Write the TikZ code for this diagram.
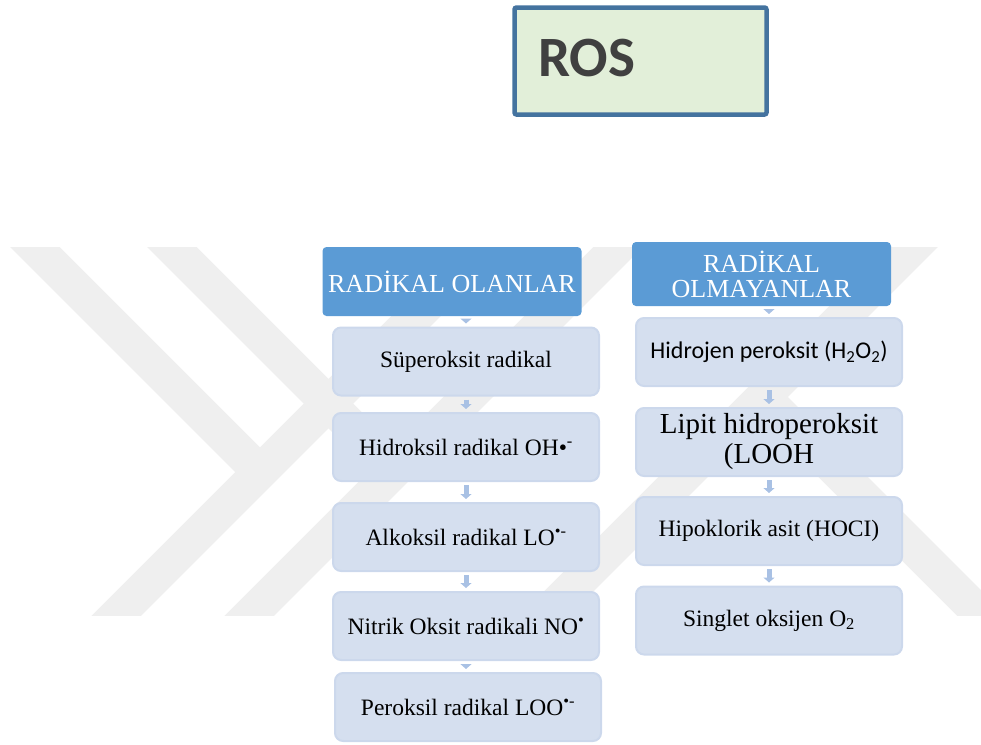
\documentclass[tikz,border=0pt]{standalone}
\usepackage{fontspec}
\setmainfont{Liberation Serif}
\newfontfamily\calibri{Carlito}
\usetikzlibrary{arrows.meta}

\definecolor{headblue}{HTML}{5B9BD5}
\definecolor{itemfill}{HTML}{D5DFEF}
\definecolor{itemline}{HTML}{CCD8EC}
\definecolor{arrowblue}{HTML}{A9C1E4}
\definecolor{rosfill}{HTML}{E2EFD9}
\definecolor{rosline}{HTML}{44739F}
\definecolor{rostext}{HTML}{404040}
\definecolor{wmgray}{HTML}{EFEFEF}

\tikzset{
  head/.style={fill=headblue, rounded corners=4pt, text=white, align=center,
    inner sep=0pt, minimum width=259pt, font=\fontsize{26}{25}\selectfont},
  item/.style={fill=itemfill, draw=itemline, line width=2pt, rounded corners=8pt,
    align=center, inner sep=0pt, minimum width=266pt, minimum height=68pt,
    font=\fontsize{23.5}{28}\selectfont},
  down/.style={arrowblue, line width=5pt, -{Triangle[width=11pt,length=5pt]},
    shorten <=3pt, shorten >=3pt},
  wmark/.style={wmgray, line width=35pt}
}

\begin{document}
\begin{tikzpicture}[x=1pt,y=-1pt]
\useasboundingbox (0,0) rectangle (981,744);

% watermark
\begin{scope}
\clip (0,247) rectangle (981,615);
\draw[wmark] (77,655) -- (527,205);
\draw[wmark] (-5,207) -- (260,472);
\draw[wmark] (210,655) -- (660,205);
\draw[wmark] (132,207) -- (395,470);
\draw[wmark] (505,655) -- (955,205);
\draw[wmark] (763,397) -- (1021,655);
\end{scope}

\node[draw=rosline, fill=rosfill, line width=4.5pt, rounded corners=2pt,
  minimum width=252pt, minimum height=107pt, text width=205pt, align=left,
  inner sep=0pt, text depth=6pt, text=rostext,
  font=\calibri\bfseries\fontsize{57}{57}\selectfont] (ros) at (640.5,61) {ROS};

% radikal olanlar
\node[head, minimum height=69pt] (olan) at (452,281.5) {RADİKAL OLANLAR};
\node[item] (s1) at (466,361.5) {Süperoksit radikal};
\node[item] (s2) at (466,447) {Hidroksil radikal OH•\textsuperscript{-}};
\node[item] (s3) at (466,537) {Alkoksil radikal LO\textsuperscript{•-}};
\node[item] (s4) at (466,626) {Nitrik Oksit radikali NO\textsuperscript{•}};
\node[item] (s5) at (468,707) {Peroksil radikal LOO\textsuperscript{•-}};

% radikal olmayanlar
\node[head, minimum height=64pt] (olmayan) at (761.5,274) {RADİKAL\\OLMAYANLAR};
\node[item, font=\calibri\fontsize{24}{28}\selectfont] (n1) at (769,352) {Hidrojen peroksit (H\textsubscript{2}O\textsubscript{2})};
\node[item, font=\fontsize{29}{30}\selectfont] (n2) at (769,442) {Lipit hidroperoksit\\(LOOH};
\node[item] (n3) at (769,531) {Hipoklorik asit (HOCI)};
\node[item] (n4) at (769,620.5) {Singlet oksijen O\textsubscript{2}};

\draw[down] (olan.south -| s1) -- (s1.north);
\draw[down] (s1) -- (s2);
\draw[down] (s2) -- (s3);
\draw[down] (s3) -- (s4);
\draw[down] (s4.south) -- (s5.north -| s4);

\draw[down] (olmayan.south -| n1) -- (n1.north);
\draw[down] (n1) -- (n2);
\draw[down] (n2) -- (n3);
\draw[down] (n3) -- (n4);
\end{tikzpicture}
\end{document}
